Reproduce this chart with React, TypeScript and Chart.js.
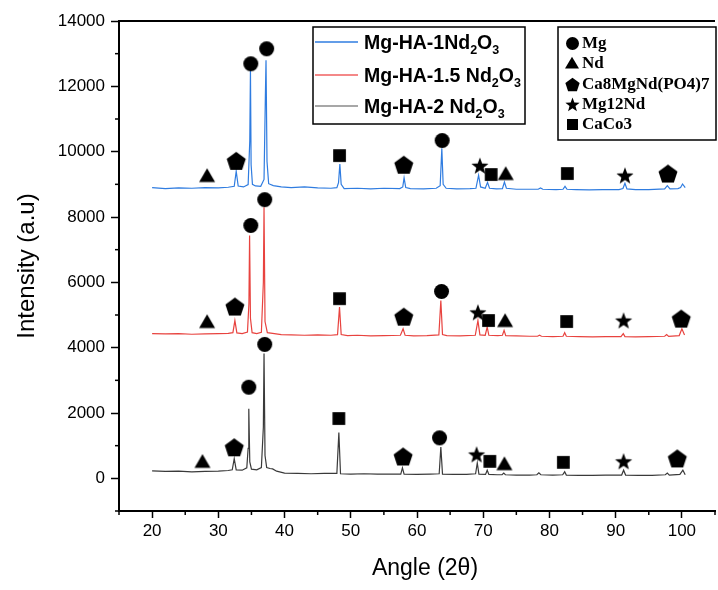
import React, { useEffect, useRef } from 'react';
import { Chart, registerables } from 'chart.js';

Chart.register(...registerables);

// ---- series (angle 2θ, intensity) ----
const blueTrace: number[][] = [
  [20, 8900], [22, 8870], [24, 8890], [26, 8880], [28, 8900], [30, 8890], [31.5, 8910], [32.4, 8940],
  [32.7, 9400], [33.0, 8950], [33.8, 8920], [34.5, 8990], [34.75, 10340], [34.85, 12500], [34.95, 9600],
  [35.15, 9000], [35.6, 8950], [36.4, 8940], [36.9, 9150], [37.1, 11650], [37.2, 12800], [37.35, 9700],
  [37.6, 9020], [38.3, 8960], [39.5, 8920], [41, 8900], [43, 8920], [45, 8890], [47, 8880], [47.9, 8900],
  [48.15, 9050], [48.35, 9620], [48.55, 9000], [49, 8870], [51, 8880], [53, 8860], [55, 8880], [57.4, 8870],
  [57.85, 8920], [58.05, 9200], [58.3, 8900], [59, 8870], [61, 8860], [62.9, 8880], [63.5, 8960],
  [63.75, 10100], [63.95, 9000], [64.4, 8880], [66, 8860], [68, 8870], [68.9, 8880], [69.3, 9280],
  [69.6, 8920], [70.3, 8880], [70.65, 9060], [70.95, 8880], [72, 8860], [72.9, 8870], [73.2, 9070],
  [73.5, 8880], [75, 8850], [77, 8850], [78.3, 8850], [78.65, 8890], [79, 8850], [81, 8840], [82.05, 8850],
  [82.35, 8940], [82.65, 8850], [84, 8840], [86, 8830], [88, 8840], [90.5, 8840], [91.1, 8870],
  [91.4, 9030], [91.7, 8860], [93, 8840], [95, 8840], [97.4, 8860], [97.8, 8960], [98.2, 8860],
  [99.4, 8870], [99.8, 8900], [100.1, 9010], [100.5, 8900],
];

const redTrace: number[][] = [
  [20, 4430], [22, 4420], [24, 4430], [26, 4410], [28, 4420], [30, 4430], [31.5, 4440], [32.2, 4460],
  [32.5, 4830], [32.8, 4450], [33.6, 4430], [34.4, 4480], [34.62, 5350], [34.72, 7430], [34.85, 4900],
  [35.1, 4460], [35.8, 4430], [36.5, 4470], [36.8, 6000], [36.9, 8300], [37.05, 4800], [37.4, 4460],
  [38.2, 4440], [39.5, 4400], [41, 4390], [43, 4380], [45, 4390], [47, 4380], [48.0, 4400], [48.3, 5240],
  [48.55, 4400], [49.5, 4370], [51, 4380], [53, 4360], [55, 4370], [57.5, 4380], [57.9, 4580],
  [58.2, 4380], [59.5, 4360], [61.5, 4370], [63.3, 4390], [63.6, 5440], [63.85, 4400], [64.5, 4370],
  [66.5, 4360], [68.8, 4380], [69.2, 4830], [69.5, 4390], [70.3, 4380], [70.6, 4630], [70.85, 4380],
  [72.2, 4370], [72.9, 4380], [73.15, 4530], [73.4, 4370], [75, 4360], [77, 4350], [78.2, 4350],
  [78.5, 4380], [78.8, 4350], [80.5, 4340], [82.05, 4350], [82.3, 4460], [82.55, 4350], [84.5, 4340],
  [86.5, 4330], [88.5, 4340], [90.8, 4340], [91.15, 4430], [91.4, 4340], [93, 4330], [95, 4340],
  [97.4, 4350], [97.7, 4400], [98, 4345], [99.6, 4370], [100.0, 4580], [100.4, 4390],
];

const blackTrace: number[][] = [
  [20, 230], [22, 210], [24, 220], [26, 200], [28, 210], [30, 220], [31.5, 240], [32.1, 260], [32.4, 600],
  [32.7, 260], [33.6, 250], [34.3, 320], [34.5, 920], [34.6, 2130], [34.75, 500], [35.0, 280], [35.8, 260],
  [36.5, 330], [36.8, 1570], [36.9, 3820], [37.05, 700], [37.3, 330], [37.8, 300], [38.2, 290], [38.8, 220],
  [40, 160], [42, 150], [44, 140], [46, 150], [47.9, 150], [48.2, 1400], [48.45, 140], [50, 130], [52, 140],
  [54, 130], [56, 130], [57.55, 130], [57.8, 320], [58.05, 130], [60, 120], [62, 130], [63.35, 140],
  [63.6, 960], [63.85, 130], [65.5, 120], [67.5, 120], [68.85, 140], [69.1, 470], [69.35, 130],
  [70.35, 120], [70.6, 250], [70.85, 120], [72.1, 110], [72.85, 110], [73.1, 160], [73.35, 110], [75, 100],
  [77, 100], [78.1, 110], [78.4, 170], [78.7, 110], [80.5, 100], [82.0, 110], [82.3, 200], [82.55, 100],
  [84.5, 90], [86.5, 90], [88.5, 100], [90.9, 100], [91.2, 250], [91.5, 100], [93.5, 90], [95.5, 90],
  [97.5, 110], [97.8, 160], [98.1, 100], [99.7, 120], [100.15, 250], [100.5, 110],
];

const seriesNames = ['Mg-HA-1Nd', 'Mg-HA-1.5 Nd', 'Mg-HA-2 Nd'];
const seriesColors = ['#2f7ce0', '#e8433f', '#3a3a3a'];
const legendLineColors = ['#2f7ce0', '#f06060', '#8a8a8a'];

// ---- phase markers (angle, intensity) ----
const mgMarks: number[][] = [
  [34.9, 12690], [37.3, 13150], [63.8, 10340],
  [34.9, 7740], [37.0, 8530], [63.7, 5720],
  [34.6, 2790], [37.0, 4100], [63.4, 1240],
];
const ndMarks: number[][] = [
  [28.3, 9270], [73.4, 9330],
  [28.3, 4800], [73.3, 4830],
  [27.6, 520], [73.2, 450],
];
const caPhosMarks: number[][] = [
  [32.7, 9720], [58.0, 9600], [97.9, 9330],
  [32.5, 5260], [58.0, 4950], [99.9, 4890],
  [32.4, 950], [57.9, 670], [99.3, 610],
];
const mg12NdMarks: number[][] = [
  [69.5, 9570], [91.4, 9270],
  [69.2, 5080], [91.2, 4830],
  [69.0, 730], [91.2, 520],
];
const caco3Marks: number[][] = [
  [48.3, 9880], [71.2, 9300], [82.7, 9330],
  [48.3, 5500], [70.8, 4830], [82.6, 4800],
  [48.2, 1830], [71.0, 520], [82.1, 490],
];

const phaseNames = ['Mg', 'Nd', 'Ca8MgNd(PO4)7', 'Mg12Nd', 'CaCo3'];
const phaseShapes = ['circle', 'triangle', 'pentagon', 'star', 'square'];
const phaseMarks = [mgMarks, ndMarks, caPhosMarks, mg12NdMarks, caco3Marks];

// ---- axes ----
const xTitle = 'Angle (2θ)';
const yTitle = 'Intensity (a.u)';
const xMin = 15;
const xMax = 105;
const yMin = -1000;
const yMax = 14000;
const xMajorTicks = [20, 30, 40, 50, 60, 70, 80, 90, 100];
const xMinorTicks = [15, 25, 35, 45, 55, 65, 75, 85, 95, 105];
const yMajorTicks = [0, 2000, 4000, 6000, 8000, 10000, 12000, 14000];
const yMinorTicks = [-1000, 1000, 3000, 5000, 7000, 9000, 11000, 13000];

const SANS = '"Liberation Sans", Arial, sans-serif';
const SERIF = '"Liberation Serif", "Times New Roman", serif';

const plotSize: Record<string, number> = { circle: 15, triangle: 16, pentagon: 20, star: 18, square: 15 };
const legendSize: Record<string, number> = { circle: 13, triangle: 14, pentagon: 15, star: 15, square: 13 };

function makeMarker(shape: string, size: number): HTMLCanvasElement {
  const s = Math.ceil(size + 4);
  const c = document.createElement('canvas');
  c.width = s;
  c.height = s;
  const g = c.getContext('2d') as CanvasRenderingContext2D;
  const cx = s / 2;
  const cy = s / 2;
  const r = size / 2;
  g.fillStyle = '#000';
  g.beginPath();
  if (shape === 'circle') {
    g.arc(cx, cy, r, 0, Math.PI * 2);
  } else if (shape === 'square') {
    g.rect(cx - r * 0.85, cy - r * 0.85, r * 1.7, r * 1.7);
  } else if (shape === 'triangle') {
    g.moveTo(cx, cy - r * 0.9);
    g.lineTo(cx + r, cy + r * 0.8);
    g.lineTo(cx - r, cy + r * 0.8);
    g.closePath();
  } else if (shape === 'pentagon') {
    for (let i = 0; i < 5; i++) {
      const a = -Math.PI / 2 + (i * 2 * Math.PI) / 5;
      const px = cx + r * Math.cos(a);
      const py = cy + r * 0.1 + r * Math.sin(a);
      if (i === 0) g.moveTo(px, py);
      else g.lineTo(px, py);
    }
    g.closePath();
  } else if (shape === 'star') {
    for (let i = 0; i < 10; i++) {
      const rr = i % 2 ? r * 0.42 : r;
      const a = -Math.PI / 2 + (i * Math.PI) / 5;
      const px = cx + rr * Math.cos(a);
      const py = cy + r * 0.08 + rr * Math.sin(a);
      if (i === 0) g.moveTo(px, py);
      else g.lineTo(px, py);
    }
    g.closePath();
  }
  g.fill();
  return c;
}

function drawFormula(ctx: CanvasRenderingContext2D, x: number, y: number, head: string) {
  const big = `bold 19.5px ${SANS}`;
  const small = `bold 12.5px ${SANS}`;
  ctx.textBaseline = 'alphabetic';
  ctx.textAlign = 'left';
  let cx = x;
  const base = y + 7;
  ctx.font = big;
  ctx.fillText(head, cx, base);
  cx += ctx.measureText(head).width;
  ctx.font = small;
  ctx.fillText('2', cx, base + 5);
  cx += ctx.measureText('2').width;
  ctx.font = big;
  ctx.fillText('O', cx, base);
  cx += ctx.measureText('O').width;
  ctx.font = small;
  ctx.fillText('3', cx, base + 5);
}

export default function App() {
  const ref = useRef<HTMLCanvasElement | null>(null);

  useEffect(() => {
    document.body.style.margin = '0';
    const canvas = ref.current;
    if (!canvas) return;

    const plotMarkers = phaseShapes.map((s) => makeMarker(s, plotSize[s]));
    const legendMarkers = phaseShapes.map((s) => makeMarker(s, legendSize[s]));

    const decor = {
      id: 'decor',
      afterDraw(chart: any) {
        const ctx: CanvasRenderingContext2D = chart.ctx;
        const { left, right, top, bottom } = chart.chartArea;
        const xs = chart.scales.x;
        const ys = chart.scales.y;
        ctx.save();
        ctx.strokeStyle = '#000';
        ctx.lineWidth = 1.5;
        xMinorTicks.forEach((v) => {
          const p = xs.getPixelForValue(v);
          ctx.beginPath();
          ctx.moveTo(p, bottom);
          ctx.lineTo(p, bottom + 4);
          ctx.stroke();
        });
        yMinorTicks.forEach((v) => {
          const p = ys.getPixelForValue(v);
          ctx.beginPath();
          ctx.moveTo(left, p);
          ctx.lineTo(left - 4, p);
          ctx.stroke();
        });
        // top frame
        ctx.lineWidth = 2;
        ctx.beginPath();
        ctx.moveTo(left, top);
        ctx.lineTo(right, top);
        ctx.stroke();

        // axis titles
        ctx.fillStyle = '#000';
        ctx.textAlign = 'center';
        ctx.textBaseline = 'middle';
        ctx.font = `23px ${SANS}`;
        ctx.fillText(xTitle, 425, 569);
        ctx.save();
        ctx.translate(27, 266);
        ctx.rotate(-Math.PI / 2);
        ctx.font = `24px ${SANS}`;
        ctx.fillText(yTitle, 0, 0);
        ctx.restore();

        // series legend
        ctx.fillStyle = '#fff';
        ctx.fillRect(313, 27, 212, 97);
        ctx.lineWidth = 1.5;
        ctx.strokeStyle = '#000';
        ctx.strokeRect(313, 27, 212, 97);
        const rows = [42, 75, 106];
        rows.forEach((ry, i) => {
          ctx.strokeStyle = legendLineColors[i];
          ctx.lineWidth = 1.5;
          ctx.beginPath();
          ctx.moveTo(315, ry);
          ctx.lineTo(358, ry);
          ctx.stroke();
          ctx.fillStyle = '#000';
          drawFormula(ctx, 364, ry, seriesNames[i]);
        });

        // phase legend
        ctx.fillStyle = '#fff';
        ctx.fillRect(558, 27, 158, 113);
        ctx.strokeStyle = '#000';
        ctx.lineWidth = 1.5;
        ctx.strokeRect(558, 27, 158, 113);
        const prow = [43, 63, 84, 104, 124];
        ctx.fillStyle = '#000';
        ctx.font = `bold 17px ${SERIF}`;
        ctx.textBaseline = 'middle';
        ctx.textAlign = 'left';
        prow.forEach((py, i) => {
          const m = legendMarkers[i];
          ctx.drawImage(m, Math.round(572 - m.width / 2), Math.round(py - m.height / 2));
          ctx.fillText(phaseNames[i], 582, py + 1);
        });
        ctx.restore();
      },
    };

    const lineSets = [blueTrace, redTrace, blackTrace].map((tr, i) => ({
      type: 'line' as const,
      data: tr.map(([x, y]) => ({ x, y })),
      borderColor: seriesColors[i],
      borderWidth: 1.2,
      pointRadius: 0,
      tension: 0,
      fill: false,
      order: 2,
    }));
    const markerSets = phaseMarks.map((marks, i) => ({
      type: 'scatter' as const,
      data: marks.map(([x, y]) => ({ x, y })),
      pointStyle: plotMarkers[i],
      pointRadius: 8,
      showLine: false,
      order: 0,
    }));

    const chart = new Chart(canvas, {
      type: 'line',
      data: { datasets: [...markerSets, ...lineSets] as any },
      options: {
        animation: false,
        responsive: false,
        devicePixelRatio: 1,
        layout: { padding: { left: 0, right: 1, top: 21, bottom: 0 } },
        plugins: { legend: { display: false }, tooltip: { enabled: false } },
        scales: {
          x: {
            type: 'linear',
            min: xMin,
            max: xMax,
            afterFit: (s: any) => { s.height = 79; },
            ticks: {
              stepSize: 5,
              autoSkip: false,
              maxRotation: 0,
              padding: 3,
              color: '#000',
              font: { family: SANS, size: 17 },
              callback: (v: any) => (xMajorTicks.includes(Number(v)) ? String(v) : ''),
            },
            grid: {
              drawOnChartArea: false,
              tickLength: 7,
              tickWidth: 1.5,
              tickColor: (c: any) => (c.tick && xMajorTicks.includes(c.tick.value) ? '#000' : 'rgba(0,0,0,0)'),
            },
            border: { color: '#000', width: 2 },
            title: { display: false },
          },
          y: {
            type: 'linear',
            min: yMin,
            max: yMax,
            afterFit: (s: any) => { s.width = 119; },
            ticks: {
              stepSize: 1000,
              autoSkip: false,
              padding: 6,
              color: '#000',
              font: { family: SANS, size: 17 },
              callback: (v: any) => (yMajorTicks.includes(Number(v)) ? String(v) : ''),
            },
            grid: {
              drawOnChartArea: false,
              tickLength: 8,
              tickWidth: 1.5,
              tickColor: (c: any) => (c.tick && yMajorTicks.includes(c.tick.value) ? '#000' : 'rgba(0,0,0,0)'),
            },
            border: { color: '#000', width: 2 },
            title: { display: false },
          },
        },
      } as any,
      plugins: [decor],
    });

    return () => chart.destroy();
  }, []);

  return (
    <div style={{ width: 718, height: 590, overflow: 'hidden', position: 'relative', background: '#fff' }}>
      <canvas ref={ref} width={724} height={590} style={{ display: 'block', width: 724, height: 590 }} />
    </div>
  );
}
